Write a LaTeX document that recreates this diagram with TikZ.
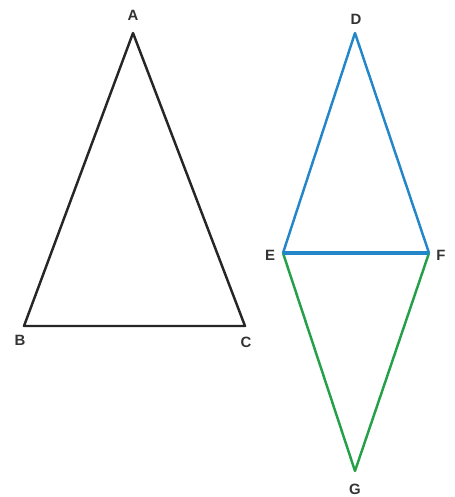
\documentclass[tikz,border=0pt]{standalone}
\usepackage{fontspec}
\setmainfont{Liberation Sans}
\usetikzlibrary{positioning,calc}
\definecolor{rhblue}{RGB}{34,134,200}
\definecolor{rhgreen}{RGB}{36,160,72}
\tikzset{vlabel/.style={font=\fontsize{8.5}{9}\selectfont\bfseries,inner sep=1pt,text=black!80}}

\begin{document}
\begin{tikzpicture}[x=0.02cm,y=-0.02cm,line width=1.4pt,line join=round]
  \useasboundingbox (0,0) rectangle (454,497);
  % triangle
  \coordinate (A) at (133,33);
  \coordinate (B) at (24,326);
  \coordinate (C) at (245,326);
  \draw[black!85] (A) -- (B) -- (C) -- cycle;
  \node[vlabel] (lA) at (133,15) {A};
  \node[vlabel] (lB) at (20,340) {B};
  \node[vlabel] (lC) at (246,342) {C};
  % rhombus
  \coordinate (D) at (355,33);
  \coordinate (E) at (283,253);
  \coordinate (F) at (429,253);
  \coordinate (G) at (355,471);
  \draw[rhgreen] (E) -- (G) -- (F);
  \draw[rhblue] (E) -- (D) -- (F);
  \draw[rhblue,line width=2pt] (E) -- (F);
  \node[vlabel] (lD) at (356,19) {D};
  \node[vlabel] (lE) at (270,255) {E};
  \node[vlabel] (lF) at (441,255) {F};
  \node[vlabel] (lG) at (355,489) {G};
\end{tikzpicture}
\end{document}
